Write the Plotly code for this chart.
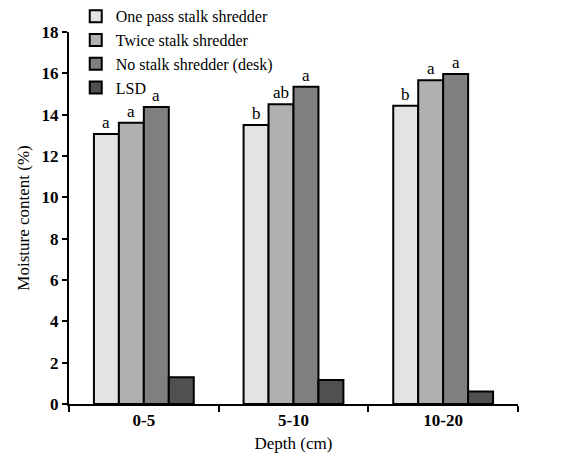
import plotly.graph_objects as go

categories = ["0-5", "5-10", "10-20"]
series_names = ["One pass stalk shredder", "Twice stalk shredder", "No stalk shredder (desk)", "LSD"]
one_pass = [13.06, 13.5, 14.43]
twice = [13.61, 14.51, 15.67]
no_stalk = [14.37, 15.35, 15.97]
lsd = [1.29, 1.16, 0.6]
letters_one = ["a", "b", "b"]
letters_twice = ["a", "ab", "a"]
letters_no = ["a", "a", "a"]
letters_lsd = ["", "", ""]

colors = ["#e3e3e3", "#b0b0b0", "#808080", "#505050"]
values = [one_pass, twice, no_stalk, lsd]
letters = [letters_one, letters_twice, letters_no, letters_lsd]

serif = "Liberation Serif"
W, H = 573, 460
ML, MR, MT, MB = 61, 63, 24, 64
BARGAP = 0.333

fig = go.Figure()
for name, vals, col in zip(series_names, values, colors):
    fig.add_trace(go.Bar(
        x=categories, y=vals, name=name,
        marker=dict(color=col, line=dict(color="black", width=2)),
    ))

# significance letters above bars, offset within each group
plot_w = W - ML - MR
bar_w = plot_w / len(categories) * (1 - BARGAP) / len(series_names)
for i, (vals, labs) in enumerate(zip(values, letters)):
    for cat, v, lab in zip(categories, vals, labs):
        if not lab:
            continue
        fig.add_annotation(
            x=cat, y=v, text=lab, showarrow=False,
            xanchor="center", yanchor="bottom",
            xshift=(i - (len(series_names) - 1) / 2) * bar_w, yshift=0,
            font=dict(family=serif, size=17, color="black"),
        )

fig.update_layout(
    width=W, height=H,
    paper_bgcolor="white", plot_bgcolor="white",
    margin=dict(l=ML, r=MR, t=MT, b=MB, autoexpand=False),
    barmode="group", bargap=BARGAP, bargroupgap=0,
    font=dict(family=serif, color="black"),
    legend=dict(
        x=0.015, y=1.088, xanchor="left", yanchor="top",
        font=dict(family=serif, size=16, color="black"),
        bgcolor="rgba(0,0,0,0)", itemwidth=30, tracegroupgap=0,
    ),
)
fig.update_xaxes(
    showline=True, linecolor="black", linewidth=2,
    ticks="outside", tickson="boundaries", ticklen=6, tickwidth=2, tickcolor="black",
    tickfont=dict(family=serif, size=17, color="black", weight="bold"),
    title=dict(text="Depth (cm)", font=dict(family=serif, size=17, color="black"), standoff=8),
    showgrid=False,
)
fig.update_yaxes(
    range=[0, 18], dtick=2, showline=True, linecolor="black", linewidth=2,
    ticks="outside", ticklen=5, tickwidth=2, tickcolor="black",
    tickfont=dict(family=serif, size=17, color="black", weight="bold"),
    title=dict(text="Moisture content (%)", font=dict(family=serif, size=17, color="black"), standoff=8),
    showgrid=False, zeroline=False,
)

fig.write_html("out.html")
